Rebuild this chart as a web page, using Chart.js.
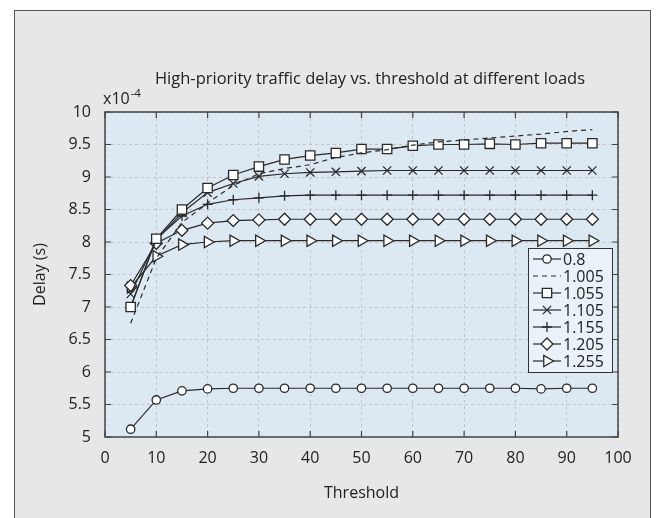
<!DOCTYPE html>
<html>
<head>
<meta charset="utf-8">
<script src="https://cdn.jsdelivr.net/npm/chart.js@4"></script>
<style>
  html, body { margin: 0; padding: 0; background: #fff; }
  #wrap { width: 663px; height: 518px; }
</style>
</head>
<body>
<div id="wrap"><canvas id="delayChart" width="663" height="518"></canvas></div>
<script>
// --- data (delay in units of 1e-4 s) ---
const thresholds = [5, 10, 15, 20, 25, 30, 35, 40, 45, 50, 55, 60, 65, 70, 75, 80, 85, 90, 95];
const loadLabels = ['0.8', '1.005', '1.055', '1.105', '1.155', '1.205', '1.255'];

const delay0800 = [5.12, 5.57, 5.71, 5.74, 5.75, 5.75, 5.75, 5.75, 5.75, 5.75, 5.75, 5.75, 5.75, 5.75, 5.75, 5.75, 5.74, 5.75, 5.75];
const delay1005 = [6.75, 7.75, 8.3, 8.6, 8.87, 9.05, 9.13, 9.19, 9.3, 9.37, 9.42, 9.49, 9.54, 9.57, 9.6, 9.63, 9.66, 9.7, 9.73];
const delay1055 = [7.0, 8.05, 8.5, 8.83, 9.03, 9.16, 9.27, 9.33, 9.37, 9.43, 9.43, 9.48, 9.5, 9.5, 9.51, 9.5, 9.52, 9.52, 9.52];
const delay1105 = [7.2, 8.03, 8.45, 8.76, 8.9, 9.01, 9.05, 9.07, 9.08, 9.09, 9.1, 9.1, 9.1, 9.1, 9.1, 9.1, 9.1, 9.1, 9.1];
const delay1155 = [7.0, 8.05, 8.4, 8.58, 8.65, 8.68, 8.71, 8.72, 8.72, 8.72, 8.72, 8.72, 8.72, 8.72, 8.72, 8.72, 8.72, 8.72, 8.72];
const delay1205 = [7.33, 7.98, 8.18, 8.29, 8.33, 8.34, 8.35, 8.35, 8.35, 8.35, 8.35, 8.35, 8.35, 8.35, 8.35, 8.35, 8.35, 8.35, 8.35];
const delay1255 = [7.3, 7.78, 7.96, 8.0, 8.02, 8.02, 8.02, 8.02, 8.02, 8.02, 8.02, 8.02, 8.02, 8.02, 8.02, 8.02, 8.02, 8.02, 8.02];

const yTicks = [5, 5.5, 6, 6.5, 7, 7.5, 8, 8.5, 9, 9.5, 10];

const INK = '#2a2a2a';
const FONT = '"Open Sans", "DejaVu Sans", sans-serif';

// marker look per series
const STYLES = [
  { pointStyle: 'circle',   radius: 4.2, rotation: 0 },
  { pointStyle: false,      radius: 0,   rotation: 0, dash: [5, 4] },
  { pointStyle: 'rect',     radius: 6.6, rotation: 0 },
  { pointStyle: 'crossRot', radius: 5.8, rotation: 0 },
  { pointStyle: 'cross',    radius: 5,   rotation: 0 },
  { pointStyle: 'rectRot',  radius: 6,   rotation: 0 },
  { pointStyle: 'triangle', radius: 6.5, rotation: 90 }
];

const seriesValues = [delay0800, delay1005, delay1055, delay1105, delay1155, delay1205, delay1255];

const datasets = seriesValues.map((vals, i) => ({
  label: loadLabels[i],
  data: thresholds.map((t, k) => ({ x: t, y: vals[k] })),
  borderColor: INK,
  borderWidth: 1.2,
  borderDash: STYLES[i].dash || [],
  pointStyle: STYLES[i].pointStyle,
  pointRadius: STYLES[i].radius,
  pointRotation: STYLES[i].rotation,
  pointBackgroundColor: '#ffffff',
  pointBorderColor: INK,
  pointBorderWidth: 1.3,
  fill: false,
  tension: 0
}));

// --- figure background, plot background ---
const backdrop = {
  id: 'backdrop',
  beforeDraw(chart) {
    const { ctx, chartArea: a } = chart;
    ctx.save();
    ctx.fillStyle = '#ffffff';
    ctx.fillRect(0, 0, chart.width, chart.height);
    ctx.fillStyle = '#e6e7e8';
    ctx.fillRect(14.5, 10.5, 636, 520);
    ctx.strokeStyle = '#555';
    ctx.lineWidth = 1;
    ctx.strokeRect(14.5, 10.5, 636, 520);
    ctx.fillStyle = '#dce9f3';
    ctx.fillRect(a.left, a.top, a.right - a.left, a.bottom - a.top);
    ctx.restore();
  }
};

// --- box around plot + inward tick marks ---
const frame = {
  id: 'frame',
  afterDraw(chart) {
    const { ctx, chartArea: a, scales } = chart;
    ctx.save();
    ctx.strokeStyle = '#444';
    ctx.lineWidth = 1.5;
    ctx.strokeRect(a.left, a.top, a.right - a.left, a.bottom - a.top);
    ctx.lineWidth = 1.2;
    const len = 6;
    ctx.beginPath();
    scales.x.ticks.forEach(t => {
      const px = scales.x.getPixelForValue(t.value);
      ctx.moveTo(px, a.bottom); ctx.lineTo(px, a.bottom - len);
      ctx.moveTo(px, a.top); ctx.lineTo(px, a.top + len);
    });
    scales.y.ticks.forEach(t => {
      const py = scales.y.getPixelForValue(t.value);
      ctx.moveTo(a.left, py); ctx.lineTo(a.left + len, py);
      ctx.moveTo(a.right, py); ctx.lineTo(a.right - len, py);
    });
    ctx.stroke();
    ctx.restore();
  }
};

// --- texts around the plot ---
const labels = {
  id: 'labels',
  afterDraw(chart) {
    const { ctx, chartArea: a } = chart;
    ctx.save();
    ctx.fillStyle = '#222';
    ctx.textBaseline = 'middle';
    ctx.textAlign = 'center';
    ctx.font = '16.5px ' + FONT;
    ctx.fillText('High-priority traffic delay vs. threshold at different loads', 370, 79);
    ctx.font = '16px ' + FONT;
    ctx.fillText('Threshold', (a.left + a.right) / 2, 493);

    ctx.save();
    ctx.translate(40, (a.top + a.bottom) / 2);
    ctx.rotate(-Math.PI / 2);
    ctx.fillText('Delay (s)', 0, 0);
    ctx.restore();

    ctx.textAlign = 'left';
    ctx.textBaseline = 'alphabetic';
    ctx.font = '16px ' + FONT;
    ctx.fillText('x10', 103, 104);
    const w = ctx.measureText('x10').width;
    ctx.font = '11.5px ' + FONT;
    ctx.fillText('-4', 103 + w + 1, 97);
    ctx.restore();
  }
};

// --- legend box inside the plot ---
const legendBox = {
  id: 'legendBox',
  afterDraw(chart) {
    const { ctx } = chart;
    const x0 = 528, y0 = 248, w = 84, h = 124;
    ctx.save();
    ctx.fillStyle = '#e9f2f9';
    ctx.fillRect(x0, y0, w, h);
    ctx.strokeStyle = '#333';
    ctx.lineWidth = 1;
    ctx.strokeRect(x0 + 0.5, y0 + 0.5, w, h);
    ctx.font = '16px ' + FONT;
    ctx.textBaseline = 'middle';
    ctx.textAlign = 'left';
    chart.data.datasets.forEach((ds, i) => {
      const y = 259 + i * 17;
      ctx.strokeStyle = INK;
      ctx.lineWidth = 1.2;
      ctx.setLineDash(ds.borderDash);
      ctx.beginPath();
      ctx.moveTo(533, y);
      ctx.lineTo(561, y);
      ctx.stroke();
      ctx.setLineDash([]);
      if (ds.pointStyle && Chart.helpers && Chart.helpers.drawPoint) {
        ctx.fillStyle = '#ffffff';
        ctx.strokeStyle = INK;
        ctx.lineWidth = 1.3;
        Chart.helpers.drawPoint(ctx, {
          pointStyle: ds.pointStyle,
          radius: ds.pointRadius,
          rotation: ds.pointRotation,
          borderWidth: 1.3
        }, 547, y);
      }
      ctx.fillStyle = '#222';
      ctx.fillText(ds.label, 563, y + 1);
    });
    ctx.restore();
  }
};

new Chart(document.getElementById('delayChart'), {
  type: 'line',
  data: { datasets: datasets },
  options: {
    responsive: false,
    animation: false,
    layout: { padding: { top: 112, right: 45, left: 0, bottom: 0 } },
    plugins: { legend: { display: false }, title: { display: false }, tooltip: { enabled: false } },
    scales: {
      x: {
        type: 'linear', min: 0, max: 100,
        afterFit(s) { s.height = 81; },
        ticks: { stepSize: 10, padding: 12, color: '#222', font: { family: FONT, size: 16 }, maxRotation: 0 },
        grid: { color: '#c4c4c4', drawTicks: false },
        border: { display: false, dash: [3, 3] }
      },
      y: {
        type: 'linear', min: 5, max: 10,
        afterFit(s) { s.width = 105; },
        afterBuildTicks(s) { s.ticks = yTicks.map(v => ({ value: v })); },
        ticks: { padding: 14, color: '#222', font: { family: FONT, size: 16 }, callback: v => String(Number(v)) },
        grid: { color: '#c4c4c4', drawTicks: false },
        border: { display: false, dash: [3, 3] }
      }
    }
  },
  plugins: [backdrop, frame, labels, legendBox]
});
</script>
</body>
</html>
